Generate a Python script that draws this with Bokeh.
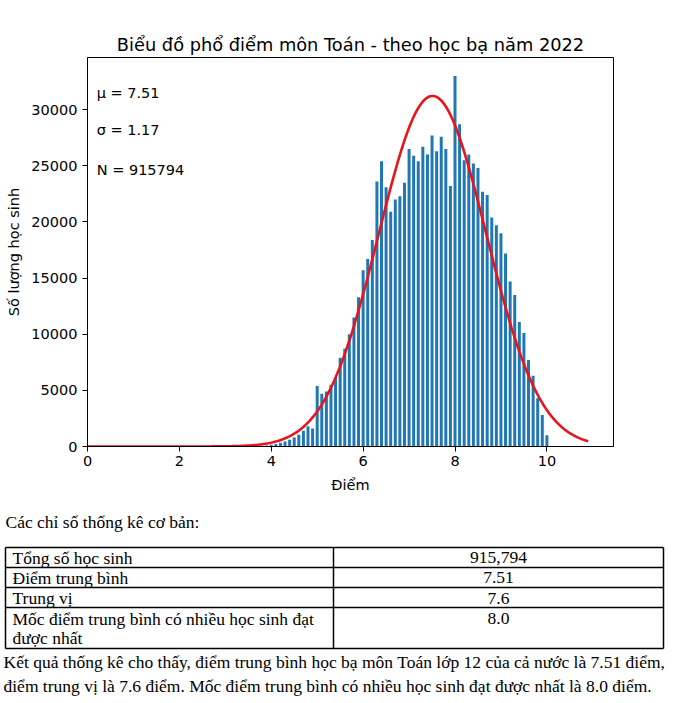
import numpy as np
from bokeh.plotting import figure
from bokeh.models import Range1d, FixedTicker, ColumnDataSource
from bokeh.core.properties import value
from bokeh.embed import file_html
from bokeh.resources import INLINE

# ---------------- data ----------------
scores = [3.5, 3.6, 3.7, 3.8, 3.9,
          4.0, 4.1, 4.2, 4.3, 4.4, 4.5, 4.6, 4.7, 4.8, 4.9,
          5.0, 5.1, 5.2, 5.3, 5.4, 5.5, 5.6, 5.7, 5.8, 5.9,
          6.0, 6.1, 6.2, 6.3, 6.4, 6.5, 6.6, 6.7, 6.8, 6.9,
          7.0, 7.1, 7.2, 7.3, 7.4, 7.5, 7.6, 7.7, 7.8, 7.9,
          8.0, 8.1, 8.2, 8.3, 8.4, 8.5, 8.6, 8.7, 8.8, 8.9,
          9.0, 9.1, 9.2, 9.3, 9.4, 9.5, 9.6, 9.7, 9.8, 9.9, 10.0]
counts = [20, 30, 45, 70, 100,
          150, 230, 330, 450, 600, 800, 1050, 1400, 1800, 1600,
          5400, 4700, 4900, 5500, 6200, 7900, 8700, 10000, 11500, 13300,
          15700, 16700, 18400, 23600, 25400, 23100, 20900, 22000, 22300, 23500,
          26500, 25900, 25400, 26700, 26000, 27700, 26300, 27600, 26500, 23200,
          33000, 28700, 25500, 26000, 25200, 24800, 22700, 22400, 20400, 19700,
          19000, 17200, 14700, 13500, 11100, 10100, 7700, 6300, 4300, 2800, 1000]

mu = 7.51
sigma = 1.17
n_total = 915794
bin_width = 0.1
curve_start, curve_end = 0.0, 10.9

stat_lines = ["\u03bc = 7.51", "\u03c3 = 1.17", "N = 915794"]
stat_y = [31500, 28150, 24600]

x_ticks = [0, 2, 4, 6, 8, 10]
y_ticks = [0, 5000, 10000, 15000, 20000, 25000, 30000]

title_text = "Biểu đồ phổ điểm môn Toán - theo học bạ năm 2022"
x_label = "Điểm"
y_label = "Số lượng học sinh"

heading = "Các chỉ số thống kê cơ bản:"
table_labels = ["Tổng số học sinh", "Điểm trung bình", "Trung vị",
                "Mốc điểm trung bình có nhiều học sinh đạt", "được nhất"]
table_values = ["915,794", "7.51", "7.6", "8.0"]
paragraph = ["Kết quả thống kê cho thấy, điểm trung bình học bạ môn Toán lớp 12 của cả nước là 7.51 điểm,",
             "điểm trung vị là 7.6 điểm. Mốc điểm trung bình có nhiều học sinh đạt được nhất là 8.0 điểm."]

# ---------------- chart ----------------
SANS = "DejaVu Sans"
SERIF = "Liberation Serif"

W = 680
H1 = 496
p = figure(width=W, height=H1, output_backend="svg", toolbar_location=None,
           x_range=Range1d(0, 11.45), y_range=Range1d(0, 34650),
           min_border_left=87, min_border_right=67, min_border_top=57,
           min_border_bottom=50)
p.title.text = title_text
p.title.align = "center"
p.title.text_font = SANS
p.title.text_font_size = "17.8px"
p.title.text_font_style = "normal"
p.title.text_color = "black"
p.title.standoff = 6

p.xgrid.visible = False
p.ygrid.visible = False
p.outline_line_color = "black"
p.outline_line_width = 1
p.background_fill_color = "white"
p.border_fill_color = "white"

src = ColumnDataSource(dict(x=scores, top=counts))
p.vbar(x="x", top="top", width=0.065, bottom=0, source=src,
       fill_color="#1f77b4", line_color=None)

xs = np.linspace(curve_start, curve_end, 400)
ys = n_total * bin_width / (sigma * np.sqrt(2 * np.pi)) * np.exp(-0.5 * ((xs - mu) / sigma) ** 2)
p.line(xs, ys, line_color="#e8141c", line_width=2.6)

p.text(x=[0.2] * 3, y=stat_y, text=stat_lines, text_font=value(SANS),
       text_font_size="14.5px", text_baseline="middle", text_align="left",
       text_color="black")

for ax in (p.xaxis[0], p.yaxis[0]):
    ax.major_label_text_font = SANS
    ax.major_label_text_font_size = "14.5px"
    ax.axis_label_text_font = SANS
    ax.axis_label_text_font_size = "14.5px"
    ax.axis_label_text_font_style = "normal"
    ax.axis_label_text_color = "black"
    ax.minor_tick_line_color = None
    ax.major_tick_in = 0
    ax.major_tick_out = 5
    ax.axis_line_color = "black"
    ax.major_label_text_color = "black"

p.xaxis[0].ticker = FixedTicker(ticks=x_ticks)
p.yaxis[0].ticker = FixedTicker(ticks=y_ticks)
p.xaxis[0].axis_label = x_label
p.yaxis[0].axis_label = y_label
p.xaxis[0].axis_label_standoff = 8
p.yaxis[0].axis_label_standoff = 6
p.xaxis[0].major_label_standoff = 4
p.yaxis[0].major_label_standoff = 5

# ---------------- table / text ----------------
Y0 = H1              # page y of second figure's top
H2 = 703 - H1
q = figure(width=W, height=H2, output_backend="svg", toolbar_location=None,
           x_range=Range1d(0, W), y_range=Range1d(H2, 0),
           min_border=0, outline_line_color=None)
q.axis.visible = False
q.xgrid.visible = False
q.ygrid.visible = False
q.background_fill_color = "white"
q.border_fill_color = "white"

def fy(page_y):
    return page_y - Y0

FS = "17.5px"
left, mid, right = 5, 333, 663
top, r1, r2, r3, bot = fy(547), fy(567), fy(587), fy(607), fy(648)

q.segment(x0=[left, left, left, left, left, left, mid, right],
          y0=[top, r1, r2, r3, bot, top, top, top],
          x1=[right, right, right, right, right, left, mid, right],
          y1=[top, r1, r2, r3, bot, bot, bot, bot],
          line_color="black", line_width=1.5)

q.text(x=[5], y=[fy(521)], text=[heading], text_font=value(SERIF),
       text_font_size=FS, text_baseline="middle", text_align="left", text_color="black")

q.text(x=[12] * 5, y=[fy(557), fy(577), fy(597.5), fy(618), fy(637)],
       text=table_labels, text_font=value(SERIF), text_font_size=FS,
       text_baseline="middle", text_align="left", text_color="black")

q.text(x=[(mid + right) / 2] * 4, y=[fy(557), fy(577), fy(597.5), fy(618)],
       text=table_values, text_font=value(SERIF), text_font_size=FS,
       text_baseline="middle", text_align="center", text_color="black")

q.text(x=[3] * 2, y=[fy(661), fy(685)], text=paragraph, text_font=value(SERIF),
       text_font_size=FS, text_baseline="middle", text_align="left", text_color="black")

open("out.html", "w").write(file_html([p, q], INLINE))
